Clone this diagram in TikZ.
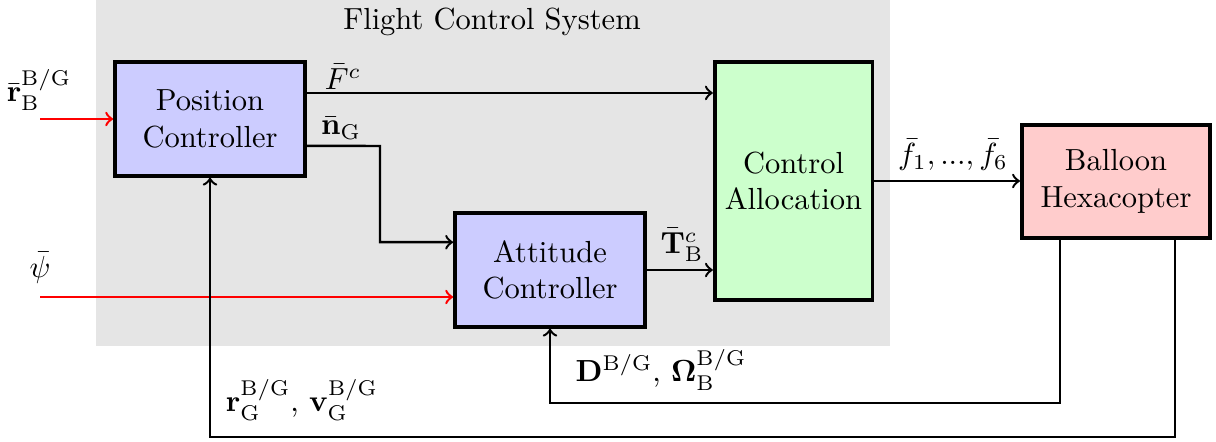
\documentclass[tikz,border=0pt]{standalone}
\usepackage{amsmath}
\begin{document}
\begin{tikzpicture}[x=0.01152cm, y=-0.01152cm, thick, >=to,
		block/.style = {draw, very thick, align=center, minimum width=2.19cm, minimum height=1.31cm},
		sig/.style = {inner sep=0pt}]

		\useasboundingbox (0,0) rectangle (1216,442);
		\fill[gray!20] (96,0) rectangle (890,346);
		\node (fcs) at (492,22) {Flight Control System};

		\node[block, fill=blue!20] (pos) at (210,119) {Position\\Controller};
		\node[block, fill=blue!20] (att) at (550,270) {Attitude\\Controller};
		\node[block, fill=green!20, minimum width=1.76cm, minimum height=2.74cm] (alloc) at (793.5,181) {Control\\Allocation};
		\node[block, fill=red!20, minimum width=2.17cm, minimum height=1.30cm] (hexa) at (1116,181.5) {Balloon\\Hexacopter};

		\coordinate (rin) at (40,119);
		\coordinate (psiin) at (40,297);
		\coordinate (fc) at ([yshift=0.30cm]pos.east);
		\coordinate (ng) at ([yshift=-0.31cm]pos.east);
		\coordinate (nbend) at (380,146);
		\coordinate (ngin) at ([yshift=0.32cm]att.west);
		\coordinate (fb1) at (1060,403);
		\coordinate (fb2) at (1175,437);

		\draw[->, red] (rin) -- (pos.west);
		\draw[->, red] (psiin) -- (psiin -| att.west);
		\draw[->] (fc) -- (fc -| alloc.west);
		\draw[->] (ng) -- (nbend) |- (ngin);
		\draw[->] (att.east) -- (att.east -| alloc.west);
		\draw[->] (alloc.east) -- (alloc.east -| hexa.west);
		\draw[->] (fb1 |- hexa.south) -- (fb1) -| (att.south);
		\draw[->] (fb2 |- hexa.south) -- (fb2) -| (pos.south);

		\node[sig] (rlbl) at (39,90) {$\bar{\mathbf{r}}_{\mathrm{B}}^{\mathrm{B/G}}$};
		\node[sig] (psilbl) at (40,268) {$\bar{\psi}$};
		\node[sig] (flbl) at (343,77) {$\bar{F}^c$};
		\node[sig] (nlbl) at (341,128) {$\bar{\mathbf{n}}_{\mathrm{G}}$};
		\node[sig] (tlbl) at (682,245) {$\bar{\mathbf{T}}_{\mathrm{B}}^{c}$};
		\node[sig] (flist) at (953,155) {$\bar{f}_1, ..., \bar{f}_6$};
		\node[sig] (dlbl) at (661,370) {$\mathbf{D}^{\mathrm{B/G}}$, $\mathbf{\Omega}_{\mathrm{B}}^{\mathrm{B/G}}$};
		\node[sig] (rvlbl) at (302,400) {$\mathbf{r}_{\mathrm{G}}^{\mathrm{B/G}}$, $\mathbf{v}_{\mathrm{G}}^{\mathrm{B/G}}$};
	\end{tikzpicture}
\end{document}
